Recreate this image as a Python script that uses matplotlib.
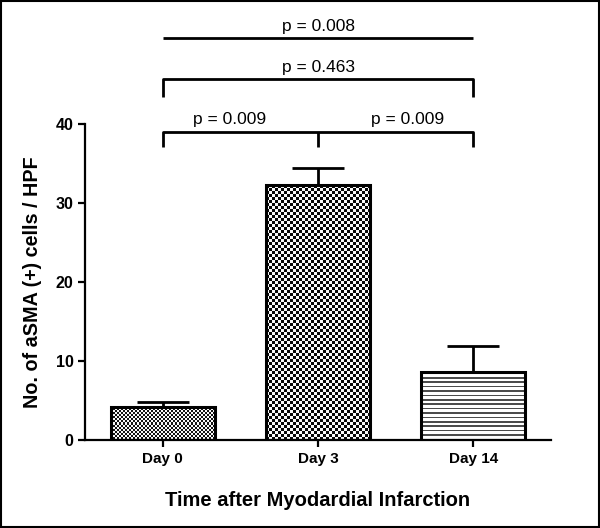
import numpy as np
import matplotlib
matplotlib.use("Agg")
import matplotlib.pyplot as plt
from matplotlib.patches import Rectangle

plt.rcParams['font.family'] = ['Liberation Sans', 'DejaVu Sans']

# data
days = ['Day 0', 'Day 3', 'Day 14']
means = [4.2, 32.3, 8.6]
errs = [0.6, 2.2, 3.3]

pvals = ['p = 0.008', 'p = 0.463', 'p = 0.009', 'p = 0.009']

fig = plt.figure(figsize=(6, 5.28), dpi=100)
ax = fig.add_axes([0.142, 0.1667, 0.776, 0.598])

x = np.arange(len(days))
bars = ax.bar(x, means, width=0.667, facecolor='none', edgecolor='black',
              linewidth=2.2, zorder=3)
ax.errorbar(x, means, yerr=[np.zeros(3), errs], fmt='none', ecolor='black',
            elinewidth=2, capsize=19, capthick=2, zorder=2)

ax.set_xlim(-0.5, 2.5)
ax.set_ylim(0, 40)


def fill_texture(bar, kind):
    x0, y0 = bar.get_x(), bar.get_y()
    x1, y1 = x0 + bar.get_width(), y0 + bar.get_height()
    p0 = ax.transData.transform((x0, y0))
    p1 = ax.transData.transform((x1, y1))
    pw = int(round(abs(p1[0] - p0[0])))
    ph = int(round(abs(p1[1] - p0[1])))
    rr, cc = np.mgrid[0:ph, 0:pw]
    if kind == 'fine':
        arr = ((rr // 2 + cc // 2) % 2) * 0.9 + 0.08
    elif kind == 'coarse':
        arr = ((rr // 3 + cc // 3) % 2) * 0.95 + 0.03
    else:
        arr = np.where((rr % 4.4) < 1.6, 0.3, 1.0) + 0 * cc
    ax.imshow(arr, extent=(x0, x1, y0, y1), cmap='gray', vmin=0, vmax=1,
              interpolation='nearest', aspect='auto', zorder=2.5)


for b, k in zip(bars, ['fine', 'coarse', 'lines']):
    fill_texture(b, k)

ax.set_xlim(-0.5, 2.5)
ax.set_ylim(0, 40)

for s in ['top', 'right']:
    ax.spines[s].set_visible(False)
for s in ['left', 'bottom']:
    ax.spines[s].set_linewidth(1.6)

ax.set_xticks(x)
ax.set_xticklabels(days, fontsize=11, fontweight='bold')
ax.set_yticks([0, 10, 20, 30, 40])
ax.tick_params(axis='both', width=1.6, length=5)
ax.tick_params(axis='y', labelsize=11.5)
for t in ax.get_yticklabels():
    t.set_fontweight('bold')

ax.set_ylabel('No. of aSMA (+) cells / HPF', fontsize=14.2, fontweight='bold',
              labelpad=10)
ax.set_xlabel('Time after Myodardial Infarction', fontsize=14.5,
              fontweight='bold', labelpad=18)

# brackets
lw = 2.0
kw = dict(color='black', lw=lw, clip_on=False, solid_capstyle='butt')
ax.plot([0, 0, 2, 2], [37.1, 39.0, 39.0, 37.1], **kw)
ax.plot([1, 1], [39.0, 37.1], **kw)
ax.text(0.43, 39.7, pvals[2], ha='center', va='bottom', fontsize=12.5)
ax.text(1.58, 39.7, pvals[3], ha='center', va='bottom', fontsize=12.5)
ax.plot([0, 0, 2, 2], [43.4, 45.7, 45.7, 43.4], **kw)
ax.text(1.0, 46.3, pvals[1], ha='center', va='bottom', fontsize=12.5)
ax.plot([0, 2], [50.9, 50.9], **kw)
ax.text(1.0, 51.4, pvals[0], ha='center', va='bottom', fontsize=12.5)

# figure frame
fig.patches.append(Rectangle((0.002, 0.002), 0.996, 0.996, transform=fig.transFigure,
                             fill=False, edgecolor='black', linewidth=1.5))

fig.savefig('out.png', dpi=100)
